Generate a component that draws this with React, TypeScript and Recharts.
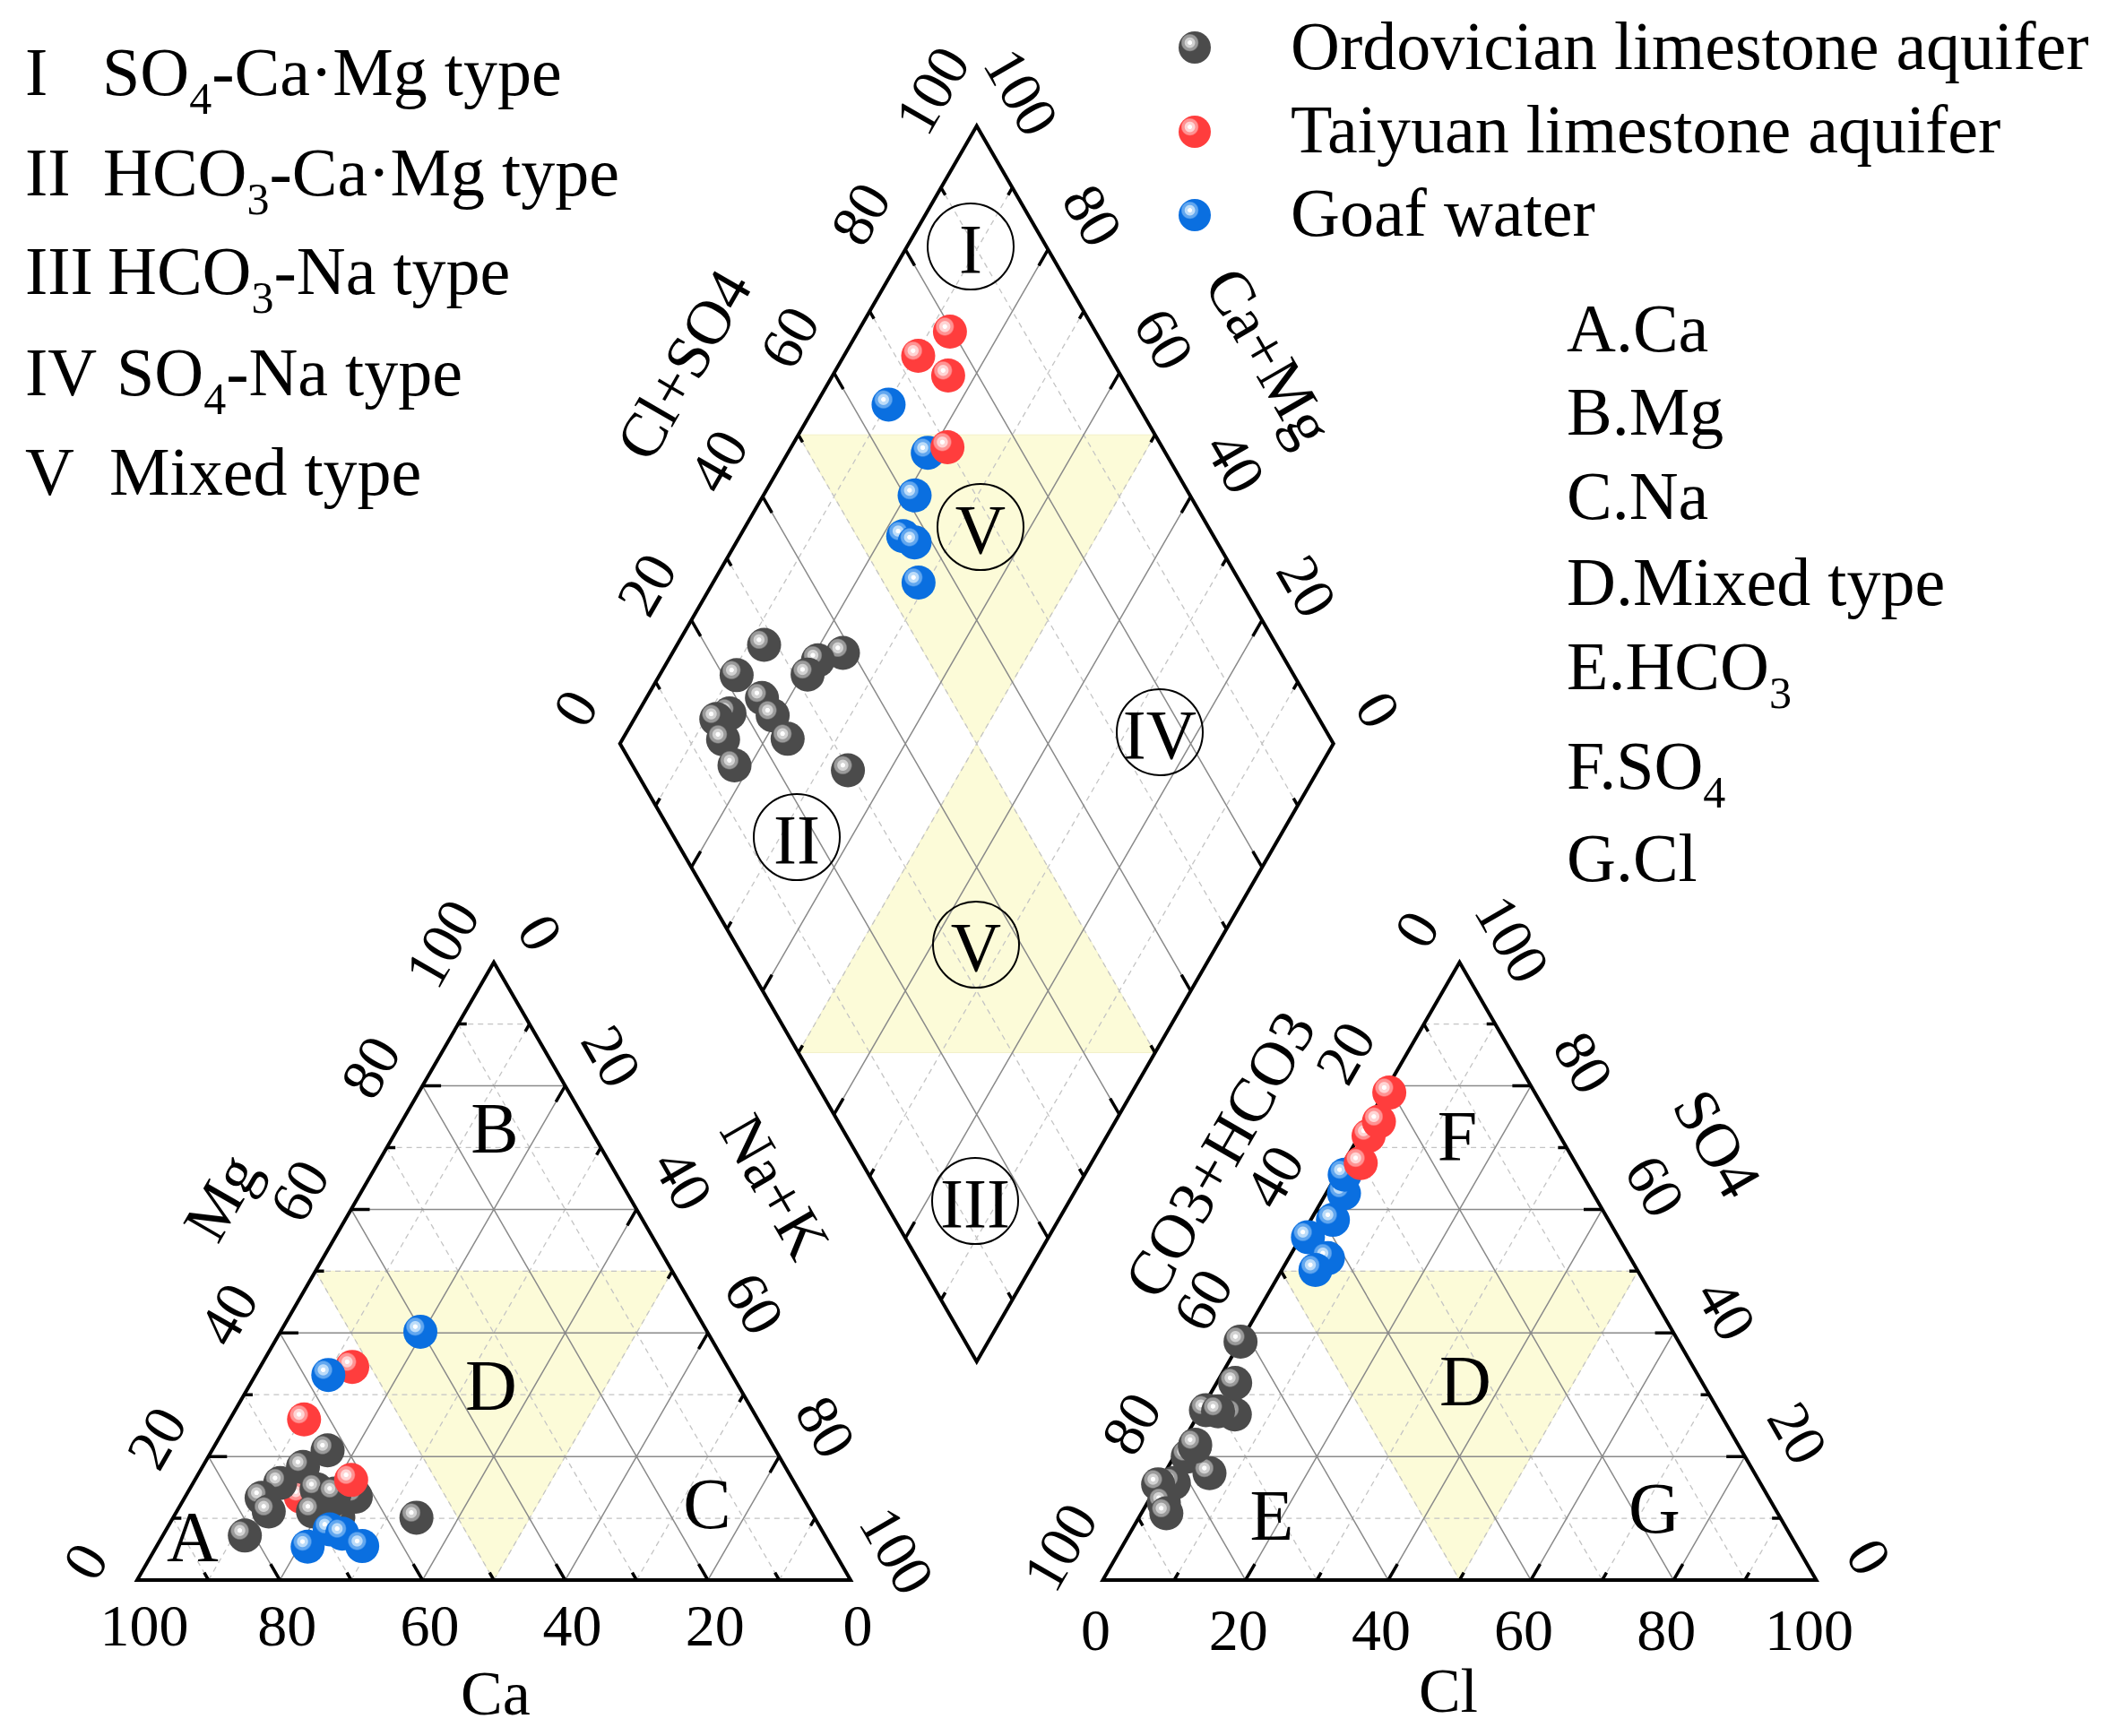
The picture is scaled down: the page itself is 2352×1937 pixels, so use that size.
import React from "react";
import { ScatterChart, Scatter, XAxis, YAxis } from "recharts";

const WIDTH = 2352;
const HEIGHT = 1937;
const FONT = "'Liberation Serif', 'Times New Roman', serif";

// ---- samples, meq % ----
// cations: [Ca, Mg, Na+K]
const ordovicianCations = [
  [72.1, 15.7, 12.2], [75.9, 13.3, 10.8], [76.0, 11.1, 12.9], [81.3, 7.2, 11.5],
  [67.6, 18.3, 14.1], [67.5, 14.7, 17.8], [62.8, 21.0, 16.2], [69.8, 11.1, 19.1],
  [66.7, 10.2, 23.1], [62.6, 13.5, 23.9], [66.0, 13.0, 21.0], [65.3, 14.0, 20.7],
  [55.8, 10.1, 34.1],
];
// anions: [HCO3, SO4, Cl]
const ordovicianAnions = [
  [71.8, 27.5, 0.7], [78.1, 20.0, 1.9], [82.2, 15.7, 2.1], [84.5, 15.5, 0.0],
  [85.2, 12.5, 2.3], [85.7, 10.8, 3.5], [76.4, 17.3, 6.3], [76.3, 21.6, 2.1],
  [76.1, 21.9, 2.0], [61.4, 38.6, 0.0], [65.5, 31.9, 2.6], [68.1, 26.8, 5.1],
  [70.2, 27.3, 2.5],
];
const taiyuanCations = [[52.6, 34.5, 12.9], [63.6, 26.0, 10.4], [70.3, 13.5, 16.2], [61.9, 16.2, 21.9]];
const taiyuanAnions = [[20.4, 78.9, 0.7], [26.8, 71.9, 1.3], [24.2, 74.2, 1.6], [30.1, 67.5, 2.4]];
const goafCations = [
  [56.6, 33.2, 10.2], [40.2, 40.2, 19.6], [73.4, 5.4, 21.2],
  [68.9, 8.2, 22.9], [67.5, 7.5, 25.0], [65.7, 5.5, 28.8],
];
const goafAnions = [
  [34.9, 62.6, 2.5], [33.3, 65.6, 1.1], [38.6, 58.3, 3.1],
  [43.5, 55.5, 1.0], [42.4, 52.1, 5.5], [45.1, 50.2, 4.7],
];

const TICKS = [0, 20, 40, 60, 80, 100];
const GRID = [10, 20, 30, 40, 50, 60, 70, 80, 90];
const AXIS_TITLES = ["Ca", "Mg", "Na+K", "Cl", "SO4", "CO3+HCO3", "Cl+SO4", "Ca+Mg"];
const FIELD_LETTERS = ["A", "B", "C", "D", "E", "F", "G", "D"];
const REGIONS = ["I", "V", "IV", "II", "V", "III"];

// ---- geometry ----
type Pt = { x: number; y: number };
const SIDE = 796;
const TRI_H = (SIDE * Math.sqrt(3)) / 2;
const CAT0 = { x: 153, y: 1763 };
const AN0 = { x: 1230.5, y: 1763 };
const GAP = AN0.x - CAT0.x - SIDE;
const DIA0 = { x: CAT0.x + SIDE + GAP / 2, y: CAT0.y - (GAP * Math.sqrt(3)) / 2 };

const tern = (o: Pt) => (a: number, b: number, c: number): Pt => {
  const t = a + b + c;
  return { x: o.x + ((c + b / 2) / t) * SIDE, y: o.y - (b / t) * TRI_H };
};
const cat = tern(CAT0); // Ca, Mg, Na+K
const an = tern(AN0); // HCO3, SO4, Cl
const dia = (camg: number, clso4: number): Pt => ({
  x: DIA0.x + ((clso4 - camg) / 100) * (SIDE / 2),
  y: DIA0.y - ((camg + clso4) / 100) * TRI_H,
});
const off = (p: Pt, dx: number, dy: number) => ({ x: p.x + dx, y: p.y + dy });

// ---- structure ----
const major = (v: number) => v % 20 === 0;
const gridFor = (pick: (v: number) => boolean) => [
  ...GRID.filter(pick).flatMap((v) => [
    [cat(100 - v, v, 0), cat(0, v, 100 - v)],
    [cat(v, 100 - v, 0), cat(v, 0, 100 - v)],
    [cat(100 - v, 0, v), cat(0, 100 - v, v)],
    [an(100 - v, v, 0), an(0, v, 100 - v)],
    [an(v, 100 - v, 0), an(v, 0, 100 - v)],
    [an(100 - v, 0, v), an(0, 100 - v, v)],
    [dia(v, 0), dia(v, 100)],
    [dia(0, v), dia(100, v)],
  ]),
];
const ticks = GRID.flatMap((v) => {
  const t = major(v) ? 2.6 : 1.2;
  return [
    [cat(100 - v, v, 0), cat(100 - v - t, v, t)],
    [cat(v, 0, 100 - v), cat(v, t, 100 - v - t)],
    [cat(0, 100 - v, v), cat(t, 100 - v - t, v)],
    [an(v, 100 - v, 0), an(v, 100 - v - t, t)],
    [an(0, v, 100 - v), an(t, v, 100 - v - t)],
    [an(100 - v, 0, v), an(100 - v - t, t, v)],
    [dia(v, 0), dia(v, t)],
    [dia(v, 100), dia(v, 100 - t)],
    [dia(0, v), dia(t, v)],
    [dia(100, v), dia(100 - t, v)],
  ];
});
const frames = [
  [cat(100, 0, 0), cat(0, 100, 0), cat(0, 0, 100)],
  [an(100, 0, 0), an(0, 100, 0), an(0, 0, 100)],
  [dia(0, 0), dia(100, 0), dia(100, 100), dia(0, 100)],
];
const shaded = [
  [cat(50, 50, 0), cat(0, 50, 50), cat(50, 0, 50)],
  [an(50, 50, 0), an(0, 50, 50), an(50, 0, 50)],
  [dia(100, 50), dia(50, 100), dia(50, 50)],
  [dia(50, 50), dia(50, 0), dia(0, 50)],
];

const tickLabels = [
  ...TICKS.map((v) => ({ ...off(cat(100 - v, v, 0), -58, -21), label: String(v), rot: -60 })),
  ...TICKS.map((v) => ({ ...off(cat(v, 0, 100 - v), 8, 50), label: String(v), rot: 0 })),
  ...TICKS.map((v) => ({ ...off(cat(0, 100 - v, v), 52, -33), label: String(v), rot: 60 })),
  ...TICKS.map((v) => ({ ...off(an(v, 100 - v, 0), -48, -37), label: String(v), rot: -60 })),
  ...TICKS.map((v) => ({ ...off(an(100 - v, 0, v), -8, 55), label: String(v), rot: 0 })),
  ...TICKS.map((v) => ({ ...off(an(0, v, 100 - v), 59, -26), label: String(v), rot: 60 })),
  ...TICKS.map((v) => ({ ...off(dia(100, v), -50, -40), label: String(v), rot: -60 })),
  ...TICKS.map((v) => ({ ...off(dia(v, 100), 50, -38), label: String(v), rot: 60 })),
];
const titlePos = [
  { x: 553, y: 1889, rot: 0 }, { x: 247, y: 1336, rot: -60 }, { x: 865, y: 1324, rot: 60 },
  { x: 1616, y: 1886, rot: 0 }, { x: 1916, y: 1276, rot: 60 }, { x: 1361, y: 1288, rot: -60 },
  { x: 763, y: 407, rot: -60 }, { x: 1416, y: 398, rot: 60 },
];
const titles = AXIS_TITLES.map((t, i) => ({ ...titlePos[i], label: t }));
const letterPos = [
  [215, 1715], [552, 1259], [789, 1678], [548, 1546], [1419, 1691], [1626, 1268], [1846, 1683], [1635, 1541],
];
const letters = FIELD_LETTERS.map((t, i) => ({ x: letterPos[i][0], y: letterPos[i][1], label: t, rot: 0 }));
const regionPos = [
  [1083, 275], [1094, 588], [1294, 817], [889, 934], [1089, 1054], [1088, 1340],
];
const regions = REGIONS.map((t, i) => ({ x: regionPos[i][0], y: regionPos[i][1], label: t }));

// ---- sample positions ----
const pct = (r: number[]) => r.map((v) => (v / (r[0] + r[1] + r[2])) * 100);
const catPts = (rows: number[][]) => rows.map((r) => cat(r[0], r[1], r[2]));
const anPts = (rows: number[][]) => rows.map((r) => an(r[0], r[1], r[2]));
const diaPts = (c: number[][], a: number[][]) =>
  c.map((r, i) => {
    const cp = pct(r);
    const ap = pct(a[i]);
    return dia(cp[0] + cp[1], ap[1] + ap[2]);
  });
// the third Taiyuan sample sits under the Ordovician cluster in the cation triangle
const redUnder = catPts(taiyuanCations).filter((_, i) => i === 2);
const redOver = catPts(taiyuanCations).filter((_, i) => i !== 2);

// ---- shapes ----
const noShape = () => <g />;
const sphere = (grad: string, r: number) => (p: any) => (
  <circle cx={p.cx} cy={p.cy} r={r} fill={`url(#${grad})`} />
);
const textShape = (size: number) => (p: any) => {
  const d = p.payload;
  return (
    <text
      x={p.cx}
      y={p.cy}
      transform={d.rot ? `rotate(${d.rot} ${p.cx} ${p.cy})` : undefined}
      textAnchor="middle"
      dominantBaseline="central"
      fontFamily={FONT}
      fontSize={size}
      fill="#000"
    >
      {d.label}
    </text>
  );
};
const regionShape = (p: any) => (
  <g>
    <circle cx={p.cx} cy={p.cy} r={48} fill="none" stroke="#000" strokeWidth={2} />
    <text x={p.cx} y={p.cy + 2} textAnchor="middle" dominantBaseline="central" fontFamily={FONT} fontSize={78} fill="#000">
      {p.payload.label}
    </text>
  </g>
);

function pathLayer(key: string, segs: Pt[][], style: React.SVGProps<SVGPathElement>, closed = false) {
  const lens = segs.map((s) => s.length);
  const render = (p: any) => {
    const pts: Pt[] = p.points || [];
    let d = "";
    let i = 0;
    lens.forEach((n) => {
      for (let k = 0; k < n; k++) {
        const q = pts[i + k];
        if (q) d += (k === 0 ? "M" : "L") + q.x.toFixed(2) + "," + q.y.toFixed(2);
      }
      if (closed) d += "Z";
      i += n;
    });
    return <path d={d} {...style} />;
  };
  return <Scatter key={key} data={segs.flat()} shape={noShape} line={render} isAnimationActive={false} />;
}

function Grad({ id, base, ring1, ring2 }: { id: string; base: string; ring1: string; ring2: string }) {
  return (
    <radialGradient id={id} cx="0.35" cy="0.35" r="0.65" fx="0.35" fy="0.35">
      <stop offset="0" stopColor="#fff" />
      <stop offset="0.09" stopColor="#fff" />
      <stop offset="0.12" stopColor={ring1} />
      <stop offset="0.23" stopColor={ring1} />
      <stop offset="0.27" stopColor={ring2} />
      <stop offset="0.37" stopColor={ring2} />
      <stop offset="0.43" stopColor={base} />
      <stop offset="1" stopColor={base} />
    </radialGradient>
  );
}

// text with one subscript, e.g. SO4-Na type
function SubText({ x, y, main, sub, rest }: { x: number; y: number; main: string; sub: string; rest?: string }) {
  return (
    <text x={x} y={y}>
      {main}
      <tspan fontSize={50} dy={21}>{sub}</tspan>
      {rest ? <tspan dy={-21}>{rest}</tspan> : null}
    </text>
  );
}

export default function App() {
  const R = 19;
  return (
    <div style={{ position: "absolute", left: 0, top: 0, width: WIDTH, height: HEIGHT, background: "#fff" }}>
      <ScatterChart width={WIDTH} height={HEIGHT} margin={{ top: 0, right: 0, bottom: 0, left: 0 }}>
        <XAxis type="number" dataKey="x" domain={[0, WIDTH]} allowDataOverflow hide />
        <YAxis type="number" dataKey="y" domain={[0, HEIGHT]} allowDataOverflow reversed hide />
        {pathLayer("shade", shaded, { fill: "#fcfbd8", stroke: "#f3f1c8", strokeWidth: 1 }, true)}
        {pathLayer("gridMinor", gridFor((v) => !major(v)), { fill: "none", stroke: "#c4c4c4", strokeWidth: 1.3, strokeDasharray: "6 5" })}
        {pathLayer("gridMajor", gridFor(major), { fill: "none", stroke: "#8a8a8a", strokeWidth: 1.5 })}
        {pathLayer("ticks", ticks, { fill: "none", stroke: "#000", strokeWidth: 3.5 })}
        {pathLayer("frames", frames, { fill: "none", stroke: "#000", strokeWidth: 4, strokeLinejoin: "miter" }, true)}
        <Scatter data={regions} shape={regionShape} isAnimationActive={false} />
        <Scatter data={letters} shape={textShape(80)} isAnimationActive={false} />
        <Scatter data={tickLabels} shape={textShape(66)} isAnimationActive={false} />
        <Scatter data={titles} shape={textShape(70)} isAnimationActive={false} />

        <Scatter data={redUnder} shape={sphere("gRed", R)} isAnimationActive={false} />
        <Scatter data={catPts(ordovicianCations)} shape={sphere("gGray", R)} isAnimationActive={false} />
        <Scatter data={redOver} shape={sphere("gRed", R)} isAnimationActive={false} />
        <Scatter data={catPts(goafCations)} shape={sphere("gBlue", R)} isAnimationActive={false} />

        <Scatter data={anPts(ordovicianAnions)} shape={sphere("gGray", R)} isAnimationActive={false} />
        <Scatter data={anPts(goafAnions)} shape={sphere("gBlue", R)} isAnimationActive={false} />
        <Scatter data={anPts(taiyuanAnions)} shape={sphere("gRed", R)} isAnimationActive={false} />

        <Scatter data={diaPts(ordovicianCations, ordovicianAnions)} shape={sphere("gGray", R)} isAnimationActive={false} />
        <Scatter data={diaPts(goafCations, goafAnions)} shape={sphere("gBlue", R)} isAnimationActive={false} />
        <Scatter data={diaPts(taiyuanCations, taiyuanAnions)} shape={sphere("gRed", R)} isAnimationActive={false} />
      </ScatterChart>

      <svg width={WIDTH} height={1100} style={{ position: "absolute", left: 0, top: 0, pointerEvents: "none" }}>
        <defs>
          <Grad id="gGray" base="#4b4b4b" ring1="#d2d2d2" ring2="#9a9a9a" />
          <Grad id="gRed" base="#ff3d3d" ring1="#ffd4d4" ring2="#ff9393" />
          <Grad id="gBlue" base="#0a6fe0" ring1="#bcdcf9" ring2="#62a7ef" />
        </defs>
        <g fontFamily={FONT} fontSize={76} fill="#000">
          <text x={28} y={106}>I</text>
          <SubText x={114} y={106} main="SO" sub="4" rest="-Ca·Mg type" />
          <text x={28} y={218}>II</text>
          <SubText x={115} y={218} main="HCO" sub="3" rest="-Ca·Mg type" />
          <text x={28} y={328}>III</text>
          <SubText x={120} y={328} main="HCO" sub="3" rest="-Na type" />
          <text x={28} y={441}>IV</text>
          <SubText x={130} y={441} main="SO" sub="4" rest="-Na type" />
          <text x={28} y={552}>V</text>
          <text x={122} y={552}>Mixed type</text>

          <circle cx={1333} cy={53} r={18} fill="url(#gGray)" />
          <circle cx={1333} cy={147} r={18} fill="url(#gRed)" />
          <circle cx={1333} cy={240} r={18} fill="url(#gBlue)" />
          <text x={1440} y={77}>Ordovician limestone aquifer</text>
          <text x={1440} y={170}>Taiyuan limestone aquifer</text>
          <text x={1440} y={263}>Goaf water</text>

          <text x={1748} y={392}>A.Ca</text>
          <text x={1748} y={485}>B.Mg</text>
          <text x={1748} y={579}>C.Na</text>
          <text x={1748} y={675}>D.Mixed type</text>
          <SubText x={1748} y={769} main="E.HCO" sub="3" />
          <SubText x={1748} y={880} main="F.SO" sub="4" />
          <text x={1748} y={983}>G.Cl</text>
        </g>
      </svg>
    </div>
  );
}
